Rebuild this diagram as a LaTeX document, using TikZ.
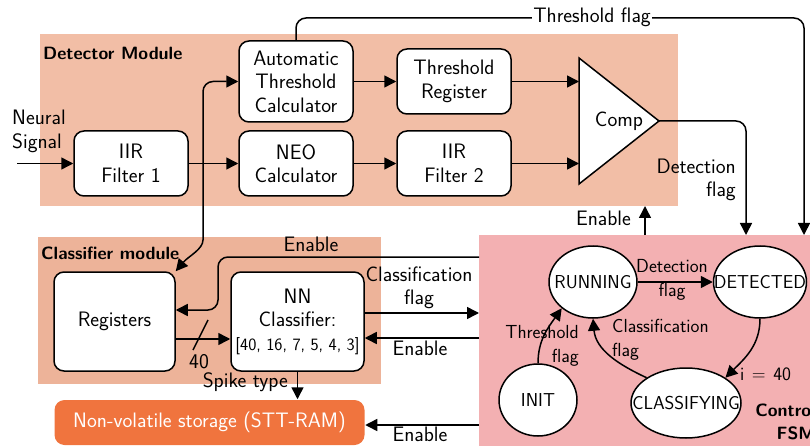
\documentclass[tikz,border=0pt]{standalone}
\usepackage{fontspec}
\setmainfont{Latin Modern Roman}
\setsansfont{Latin Modern Sans}
\usetikzlibrary{arrows.meta,shapes.geometric,calc}
\definecolor{detbg}{RGB}{242,190,166}
\definecolor{clsbg}{RGB}{237,179,153}
\definecolor{fsmbg}{RGB}{243,176,178}
\definecolor{nvsfill}{RGB}{240,116,62}
\newcommand\mainfont{\sffamily\fontsize{20.9}{23.5}\selectfont}
\newcommand\fsmfont{\sffamily\fontsize{18.7}{21}\selectfont}
\newcommand\fsmlblfont{\sffamily\fontsize{18.9}{23.5}\selectfont}
\newcommand\titlefont{\sffamily\bfseries\fontsize{17.8}{23}\selectfont}
\begin{document}
\begin{tikzpicture}[x=1pt,y=-1pt,
  blk/.style={draw, line width=1.5pt, rounded corners=10pt, fill=white, align=center, font=\mainfont, inner sep=0pt},
  conn/.style={line width=1.5pt, -{Triangle[length=12pt,width=12pt]}},
  dconn/.style={line width=1.5pt, {Triangle[length=12pt,width=12pt]}-{Triangle[length=12pt,width=12pt]}},
  lbl/.style={font=\mainfont, inner sep=0pt, align=center},
  flbl/.style={font=\fsmlblfont, inner sep=0pt, align=center},
  state/.style={draw, ellipse, line width=1.5pt, fill=white, inner sep=0pt},
  ttl/.style={font=\titlefont, inner sep=0pt, align=left}]
\useasboundingbox (0,0) rectangle (810,446);
\clip (0,0) rectangle (810,446);
% backgrounds
\fill[detbg] (40,34) rectangle (678,206);
\fill[clsbg] (38,237) rectangle (381,384);
\fill[fsmbg] (479,235) rectangle (840,460);
\node[ttl, anchor=west] (dettitle) at (43,53) {Detector Module};
\node[ttl, anchor=west] (clstitle) at (41,253) {Classifier module};
\node[ttl, align=right, anchor=east] (fsmtitle) at (816,422) {Control\\FSM};
% detector blocks
\node[blk, minimum width=114pt, minimum height=65pt] (iir1) at (131,163.5) {IIR\\Filter 1};
\node[blk, minimum width=114pt, minimum height=81pt] (atc) at (296,81.5) {Automatic\\Threshold\\Calculator};
\node[blk, minimum width=114pt, minimum height=65pt] (neo) at (296,163.5) {NEO\\Calculator};
\node[blk, minimum width=114pt, minimum height=65pt] (tr) at (454,81.5) {Threshold\\Register};
\node[blk, minimum width=114pt, minimum height=65pt] (iir2) at (454,163.5) {IIR\\Filter 2};
\coordinate (cin1) at (579,81.5);
\coordinate (cin2) at (579,163.5);
\coordinate (ctop) at (579,58);
\coordinate (cbot) at (579,184);
\coordinate (ctip) at (659,121);
\draw[line width=1.5pt, fill=white, line join=miter] (ctop) -- (ctip) -- (cbot) -- cycle;
\node[lbl] (comp) at (619,121) {Comp};
% classifier blocks
\node[blk, minimum width=121pt, minimum height=99pt] (reg) at (114.5,321.5) {Registers};
\node[blk, minimum width=133pt, minimum height=99pt] (nn) at (297.5,321.5) {NN\\Classifier:\\{\fontsize{17.3}{22}\selectfont[40, 16, 7, 5, 4, 3]}};
\node[blk, draw=none, fill=nvsfill, text=white, minimum width=310pt, minimum height=45pt] (nvs) at (209.5,422.5) {Non-volatile storage (STT-RAM)};
% FSM states
\node[state, minimum width=88pt, minimum height=72pt, label={[font=\fsmfont]center:RUNNING}] (run) at (593,282) {};
\node[state, minimum width=93pt, minimum height=72pt, label={[font=\fsmfont]center:DETECTED}] (dtd) at (760,282) {};
\node[state, minimum width=78pt, minimum height=72pt, label={[font=\fsmfont]center:INIT}] (init) at (538,400) {};
\node[state, minimum width=110pt, minimum height=70pt, label={[font=\fsmfont]center:CLASSIFYING}] (clsf) at (686,403) {};
% coordinates for free ends
\coordinate (nsin) at (17,163.5);
\coordinate (split) at (203,230);
\coordinate (tfend) at (804,235);
\coordinate (dfend) at (746,235);
\coordinate (enup) at (645,235);
\coordinate (endet) at (645,206);
\coordinate (enreg) at (479,257);
\coordinate (enregb) at (218,310);
\coordinate (bus) at (203,339);
\coordinate (cfend) at (479,313);
\coordinate (ennn) at (479,338);
\coordinate (ennvs) at (479,425);
% detector connectors
\draw[conn] (nsin) -- (iir1.west);
\node[lbl, align=left, anchor=west] (nslbl) at (12,131.5) {Neural\\Signal};
\draw[conn] (iir1.east) -- (neo.west);
\draw[conn] (atc.east) -- (tr.west);
\draw[conn] (neo.east) -- (iir2.west);
\draw[conn] (tr.east) -- (cin1);
\draw[conn] (iir2.east) -- (cin2);
\draw[dconn, rounded corners=10pt] (reg.north east) to[out=50,in=-90] (split) -- (203,81.5) -- (atc.west);
\draw[conn, rounded corners=10pt] (atc.north) -- (296,18) -- (804,18) -- (tfend);
\node[lbl, fill=white, inner xsep=1pt] (tflbl) at (592,17) {Threshold flag};
\draw[conn, rounded corners=10pt] (ctip) -- (746,121) -- (dfend);
\node[lbl, align=right, anchor=east] (dflbl) at (736,180) {Detection\\flag};
\draw[conn] (enup) -- (endet);
\node[lbl, anchor=east] (enlbl1) at (631,218) {Enable};
% classifier connectors
\draw[conn, rounded corners=10pt] (enreg) -- (218,257) -- (enregb) -- (enregb -| reg.east);
\node[lbl] (enlbl2) at (311,244) {Enable};
\draw[conn] (bus -| reg.east) -- (bus -| nn.west);
\draw[line width=1.5pt] (193,350) -- (208,320);
\node[lbl] (buslbl) at (199,362) {40};
\draw[conn] (cfend -| nn.east) -- (cfend);
\node[lbl] (cflbl) at (419,288) {Classification\\flag};
\draw[conn] (ennn) -- (ennn -| nn.east);
\node[lbl] (enlbl3) at (420,348) {Enable};
\draw[conn] (nn.south) -- (nn.south |- nvs.north);
\node[lbl, anchor=east] (stlbl) at (288,382) {Spike type};
\draw[conn] (ennvs) -- (ennvs -| nvs.east);
\node[lbl] (enlbl4) at (420,434) {Enable};
% FSM transitions
\draw[conn] (run.east) -- (dtd.west);
\node[flbl] (dflbl2) at (672,280) {Detection\\flag};
\draw[conn] (dtd.south) to[out=-90,in=45] (clsf.north east);
\node[flbl, anchor=west] (ilbl) at (740,374) {i\hspace{0.4em}=\hspace{0.4em}40};
\draw[conn] (clsf.north west) to[out=155,in=-85] (run.south);
\node[flbl, align=left, anchor=west] (cflbl2) at (612,340) {Classification\\flag};
\draw[conn] (init.north) to[out=90,in=235] (run.220);
\node[flbl, align=right, anchor=east] (tflbl2) at (579,346) {Threshold\\flag};
\end{tikzpicture}
\end{document}
